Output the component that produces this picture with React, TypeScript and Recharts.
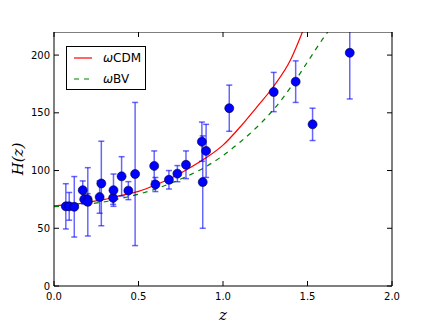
import {
  ComposedChart,
  ErrorBar,
  Line,
  Scatter,
  XAxis,
  YAxis,
} from "recharts";

// observed H(z) points with 1-sigma errors
const Z_OBS = [0.07, 0.09, 0.12, 0.17, 0.179, 0.199, 0.2, 0.27, 0.28, 0.35, 0.352, 0.4, 0.44, 0.48, 0.593, 0.6, 0.68, 0.73, 0.781, 0.875, 0.88, 0.9, 1.037, 1.3, 1.43, 1.53, 1.75];
const H_OBS = [69, 69, 68.6, 83, 75, 75, 72.9, 77, 88.8, 76.3, 83, 95, 82.6, 97, 104, 87.9, 92, 97.3, 105, 125, 90, 117, 154, 168, 177, 140, 202];
const H_ERR = [19.6, 12, 26.2, 8, 4, 5, 29.6, 14, 36.6, 5.6, 14, 17, 7.8, 62, 13, 6.1, 8, 7, 12, 17, 40, 23, 20, 17, 18, 14, 40];

// model curves
const Z_CDM = [0, 0.1, 0.2, 0.3, 0.4, 0.5, 0.6, 0.7, 0.8, 0.9, 1.0, 1.1, 1.2, 1.3, 1.4, 1.47];
const H_CDM = [69.5, 70.5, 72.5, 75, 78.5, 82, 87.5, 94, 102, 111, 122, 137.5, 155, 173, 196, 220];
const Z_BV = [0, 0.1, 0.2, 0.3, 0.4, 0.5, 0.6, 0.7, 0.8, 0.9, 1.0, 1.1, 1.2, 1.3, 1.4, 1.5, 1.6, 1.62];
const H_BV = [68.8, 69.5, 71, 73, 76, 79.5, 84, 89.5, 96, 103.5, 113, 124.5, 137.5, 153, 172, 194, 216, 220];

const X_TICKS = [0, 0.5, 1, 1.5, 2];
const Y_TICKS = [0, 50, 100, 150, 200];

const LEGEND = [
  { name: "CDM", color: "#ff0000", dash: undefined },
  { name: "BV", color: "#008000", dash: "5 5" },
];

const points = Z_OBS.map((z, i) => ({ z, h: H_OBS[i], err: H_ERR[i] }));
const cdm = Z_CDM.map((z, i) => ({ z, h: H_CDM[i] }));
const bv = Z_BV.map((z, i) => ({ z, h: H_BV[i] }));

const tickFont = { fontSize: 10, fill: "#000", fontFamily: "DejaVu Sans" };

function Dot(props: any) {
  return <circle cx={props.cx} cy={props.cy} r={4.5} fill="#0000ff" stroke="#000033" strokeWidth={0.6} />;
}

export default function App() {
  return (
    <div style={{ position: "absolute", left: 0, top: 0, width: 436, height: 327, background: "#fff" }}>
      <ComposedChart width={436} height={327} margin={{ top: 31, right: 43, bottom: 0, left: 0 }}>
        <XAxis
          dataKey="z"
          type="number"
          domain={[0, 2]}
          ticks={X_TICKS}
          tickFormatter={(v: number) => v.toFixed(1)}
          tick={tickFont}
          height={41}
          stroke="#000"
          tickSize={-5}
          tickMargin={12}
          label={{
            content: (p: any) => (
              <text
                x={p.viewBox.x + p.viewBox.width / 2}
                y={p.viewBox.y + 34}
                textAnchor="middle"
                fontFamily="DejaVu Serif"
                fontStyle="italic"
                fontSize={15}
              >
                z
              </text>
            ),
          }}
        />
        <XAxis
          xAxisId="top"
          dataKey="z"
          orientation="top"
          type="number"
          domain={[0, 2]}
          ticks={X_TICKS}
          tickFormatter={() => ""}
          height={1}
          stroke="#000"
          tickSize={-5}
        />
        <YAxis
          type="number"
          domain={[0, 220]}
          allowDataOverflow
          ticks={Y_TICKS}
          tick={tickFont}
          width={54}
          stroke="#000"
          tickSize={-5}
          tickMargin={9}
          label={{
            content: (p: any) => {
              const x = p.viewBox.x + 18;
              const y = p.viewBox.y + p.viewBox.height / 2;
              return (
                <text
                  x={x}
                  y={y}
                  transform={`rotate(-90, ${x}, ${y})`}
                  textAnchor="middle"
                  dominantBaseline="central"
                  fontFamily="DejaVu Serif"
                  fontStyle="italic"
                  fontSize={15}
                >
                  H(z)
                </text>
              );
            },
          }}
        />
        <YAxis
          yAxisId="right"
          orientation="right"
          type="number"
          domain={[0, 220]}
          allowDataOverflow
          ticks={Y_TICKS}
          tickFormatter={() => ""}
          width={1}
          stroke="#000"
          tickSize={-5}
        />
        {/* invisible series so the top/right frame axes get drawn */}
        <Line
          xAxisId="top"
          yAxisId="right"
          data={cdm}
          dataKey="h"
          stroke="none"
          dot={false}
          activeDot={false}
          legendType="none"
          isAnimationActive={false}
        />
        <Line
          data={cdm}
          dataKey="h"
          type="monotone"
          stroke="#ff0000"
          strokeWidth={1.2}
          dot={false}
          isAnimationActive={false}
        />
        <Line
          data={bv}
          dataKey="h"
          type="monotone"
          stroke="#008000"
          strokeWidth={1.2}
          strokeDasharray="5 5"
          dot={false}
          isAnimationActive={false}
        />
        <Scatter data={points} dataKey="h" shape={Dot} isAnimationActive={false}>
          <ErrorBar
            dataKey="err"
            direction="y"
            width={3}
            stroke="rgba(0,0,255,0.6)"
            strokeWidth={1.5}
            isAnimationActive={false}
          />
        </Scatter>
      </ComposedChart>

      {/* white mask above the axes box, hides error bars running past 220 */}
      <div style={{ position: "absolute", left: 0, top: 0, width: 436, height: 31.5, background: "#fff" }} />

      <div
        style={{
          position: "absolute",
          left: 66,
          top: 46,
          width: 78,
          height: 42,
          border: "1px solid #000",
          background: "#fff",
          fontFamily: "DejaVu Sans",
          fontSize: 12,
        }}
      >
        {LEGEND.map((item, i) => (
          <div
            key={item.name}
            style={{ position: "absolute", left: 0, top: i === 0 ? 3 : 24, height: 16, display: "flex", alignItems: "center" }}
          >
            <svg width={36} height={16} style={{ display: "block" }}>
              <line x1={7} x2={25} y1={8} y2={8} stroke={item.color} strokeWidth={1.2} strokeDasharray={item.dash} />
            </svg>
            <span>
              <span style={{ fontStyle: "italic" }}>ω</span>
              {item.name}
            </span>
          </div>
        ))}
      </div>
    </div>
  );
}
